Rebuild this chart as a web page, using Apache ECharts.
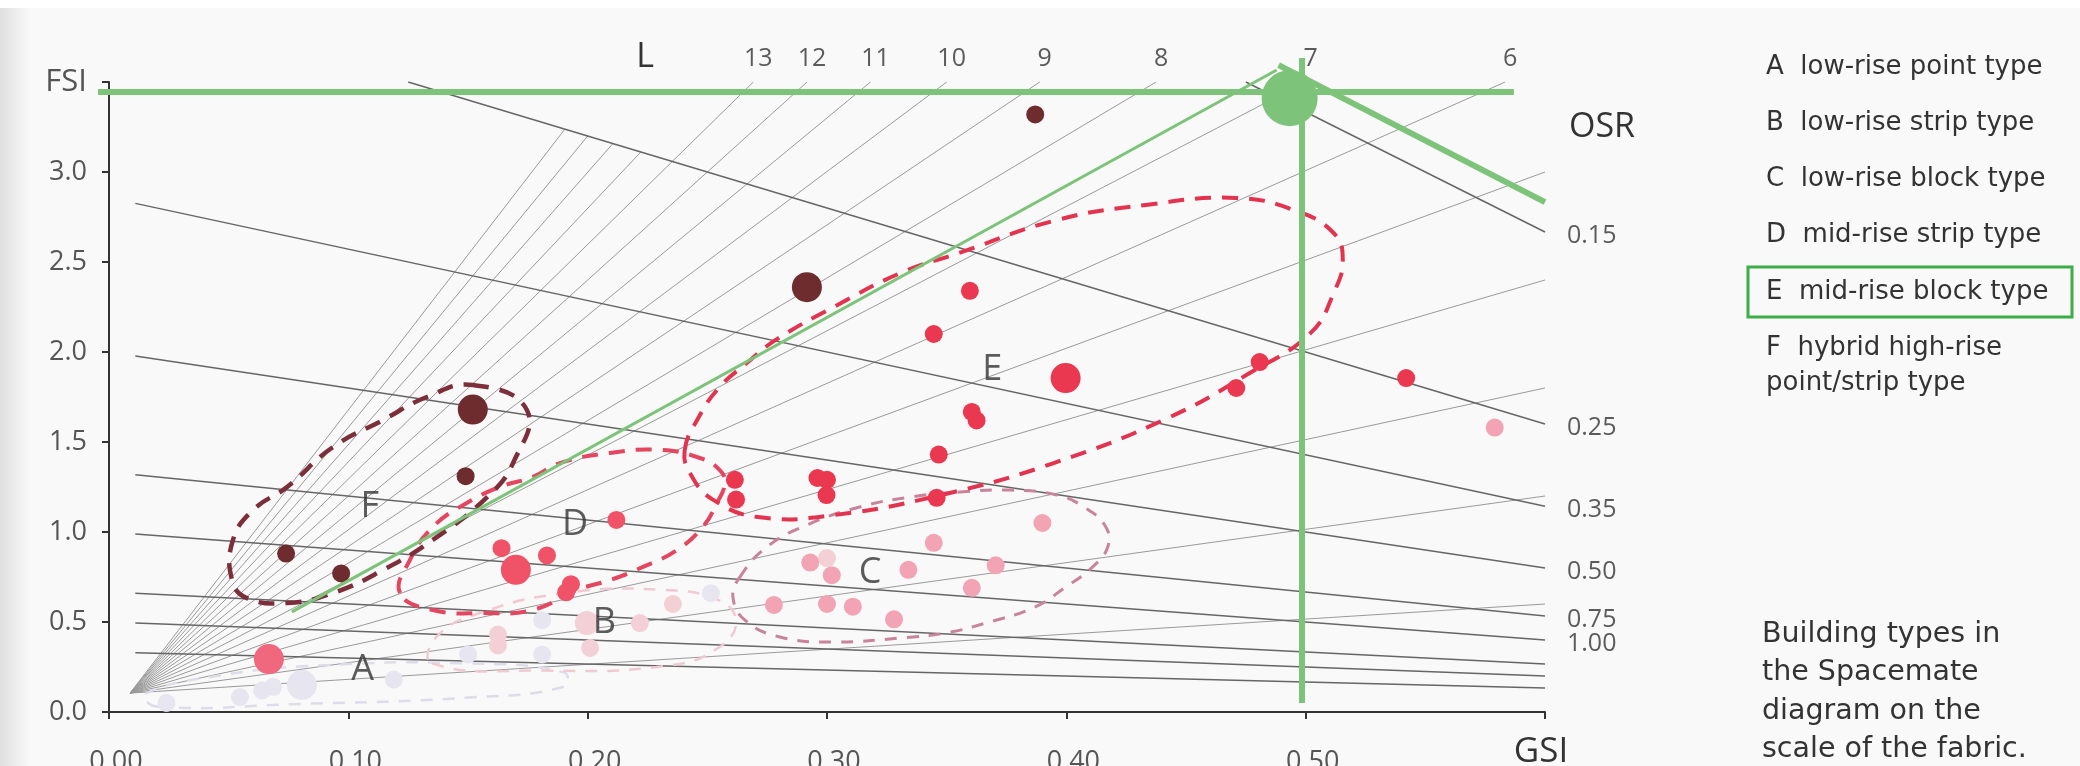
<!DOCTYPE html>
<html><head><meta charset="utf-8">
<script src="https://cdn.jsdelivr.net/npm/echarts@6/dist/echarts.min.js"></script>
<style>html,body{margin:0;padding:0;background:#f9f9f9}#c{width:2080px;height:766px}</style>
</head><body><div id="c"></div><script>
// ---------- data ----------
const xTicks = [0, 0.1, 0.2, 0.3, 0.4, 0.5, 0.6];
const yTicks = [0, 0.5, 1, 1.5, 2, 2.5, 3, 3.5];
const floorRays = [1,2,3,4,5,6,7,8,9,10,11,12,13,14,15,16,17];
const floorLabels = [6,7,8,9,10,11,12,13];
const osrValues = [0.15,0.25,0.35,0.5,0.75,1,1.5,2,3];
const osrLabels = ['0.15','0.25','0.35','0.50','0.75','1.00'];
const rayOrigin = [0.0088, 0.105];

// [GSI, FSI, sizeClass]
const typeF = [[0.152,1.68,2],[0.149,1.31,1],[0.074,0.88,1],[0.097,0.77,1],[0.2916,2.36,2],[0.387,3.32,1]];
const typeD = [[0.164,0.91,1],[0.170,0.79,2],[0.183,0.87,1],[0.212,1.067,1],[0.193,0.71,1],[0.191,0.665,1]];
const typeE = [[0.2615,1.29,1],[0.262,1.18,1],[0.296,1.30,1],[0.300,1.29,1],[0.2998,1.205,1],[0.3467,1.43,1],
  [0.3458,1.19,1],[0.3605,1.667,1],[0.3625,1.62,1],[0.3597,2.34,1],[0.3446,2.10,1],[0.3997,1.855,2],
  [0.4808,1.944,1],[0.471,1.80,1],[0.542,1.855,1]];
const typeC = [[0.390,1.05,1],[0.3446,0.94,1],[0.293,0.83,1],[0.302,0.76,1],[0.334,0.79,1],[0.3705,0.815,1],
  [0.3605,0.69,1],[0.2778,0.595,1],[0.300,0.60,1],[0.3108,0.585,1],[0.328,0.515,1],[0.579,1.58,1]];
const typeB = [[0.1997,0.494,3],[0.2218,0.494,1],[0.201,0.356,1],[0.1625,0.43,1],[0.1625,0.37,1],[0.2356,0.60,1],[0.300,0.855,1]];
const typeA = [[0.0806,0.15,2],[0.0686,0.14,1],[0.0547,0.083,1],[0.024,0.05,1],[0.119,0.18,1],[0.150,0.32,1],
  [0.181,0.51,1],[0.181,0.32,1],[0.2515,0.66,1],[0.064,0.12,1]];
const outlier = [[0.0668,0.294,2]];

const groupLetters = [['A',0.106,0.233],['B',0.207,0.494],['C',0.318,0.772],['D',0.1947,1.039],['E',0.369,1.90],['F',0.109,1.139]];

const outlineF = [[0.152,1.817],[0.1746,1.678],[0.1688,1.383],[0.158,1.194],[0.1353,0.956],[0.1145,0.789],[0.0936,0.661],
  [0.0744,0.606],[0.0576,0.633],[0.0514,0.733],[0.0518,0.956],[0.0602,1.122],[0.0744,1.25],[0.0936,1.472],[0.1145,1.622],
  [0.1328,1.75]];
const outlineD = [[0.1216,0.661],[0.1257,0.844],[0.1353,1.028],[0.1495,1.161],[0.1633,1.25],[0.1771,1.306],[0.1884,1.383],
  [0.2093,1.439],[0.2302,1.456],[0.2469,1.411],[0.2552,1.344],[0.2573,1.272],[0.254,1.161],[0.2481,1.028],[0.2373,0.9],
  [0.2231,0.806],[0.2093,0.733],[0.1955,0.678],[0.1771,0.567],[0.1562,0.55],[0.1353,0.567]];
const outlineE = [[0.2405,1.45],[0.2465,1.64],[0.2552,1.806],[0.2665,1.939],[0.2786,2.067],[0.3028,2.25],
  [0.3308,2.439],[0.3551,2.55],[0.396,2.733],[0.4332,2.817],[0.4708,2.856],[0.495,2.789],[0.5117,2.661],[0.5155,2.511],
  [0.5117,2.328],[0.5021,2.106],[0.4766,1.883],[0.4424,1.633],[0.3947,1.383],
  [0.3513,1.217],[0.3028,1.094],[0.2711,1.083],[0.2523,1.18],[0.2435,1.31]];
const outlineC = [[0.2636,0.75],[0.2749,0.917],[0.2916,1.039],[0.3137,1.139],[0.3346,1.194],[0.3555,1.222],[0.3764,1.233],
  [0.396,1.206],[0.4073,1.139],[0.4165,1.028],[0.4173,0.917],[0.411,0.806],[0.3997,0.694],[0.3868,0.583],[0.3663,0.494],
  [0.3496,0.439],[0.3308,0.411],[0.3028,0.389],[0.2803,0.417],[0.2657,0.511],[0.2607,0.639]];
const outlineB = [[0.135,0.27],[0.18,0.23],[0.235,0.26],[0.255,0.36],[0.262,0.50],[0.255,0.62],[0.23,0.68],[0.19,0.66],
  [0.155,0.55],[0.137,0.42]];
const outlineA = [[0.02,0.03],[0.08,0.045],[0.15,0.08],[0.19,0.14],[0.19,0.22],[0.15,0.27],[0.09,0.26],[0.045,0.2],[0.015,0.1]];

// green overlay annotations (data coords)
const greenHLine = [[-0.0046,3.444],[0.587,3.444]];
const greenVLine = [[0.4983,0.05],[0.4983,3.633]];
const greenThin = [[0.0764,0.556],[0.4879,3.567]];
const greenThick = [[0.4887,3.594],[0.6,2.833]];
const greenDot = [[0.4933,3.41]];

// ---------- build ----------
const FONT = 'Open Sans';
const TFONT = '"DejaVu Sans"';
const XMAX = 0.6, YMAX = 3.5;
function rayEnd(L){
  if (L <= 13) { const g = YMAX / L; return g <= XMAX ? [g, YMAX] : [XMAX, XMAX * L]; }
  const g = 1 / (1 + 0.25 * L); return [g, L * g];
}
const rayLines = floorRays.map(L => ({coords: [rayOrigin, rayEnd(L)]}));
const osrLines = osrValues.map(o => {
  const g0 = Math.max(0.011, 1 - YMAX * o);
  return {coords: [[g0, (1 - g0) / o], [XMAX, (1 - XMAX) / o]]};
});
const osrLabelPts = osrLabels.map((t, i) => ({value: [XMAX, (1 - XMAX) / osrValues[i]], name: t}));
const floorLabelPts = floorLabels.map(L => ({value: rayEnd(L), name: String(L)}));

function sz(v){ return v[2] === 2 ? 30 : (v[2] === 3 ? 24 : 18); }
function pts(name, data, color){
  return {type:'scatter', name, data, symbolSize: sz, itemStyle:{color, opacity:1}, z:5, silent:true};
}
function outline(pathPts, color, w, dash){
  return {type:'custom', data:[0], z:4, silent:true, clip:false,
    renderItem: (params, api) => ({type:'polygon',
      shape:{points: pathPts.map(p => api.coord(p)), smooth:0.45},
      style:{fill:'none', stroke:color, lineWidth:w, lineDash:dash}})};
}
function gline(coords, w){
  return {type:'lines', coordinateSystem:'cartesian2d', clip:false, z:10, silent:true,
    data:[{coords}], lineStyle:{color:'#7dc47a', width:w, opacity:1}};
}
function txt(x, y, s, size, extra){
  return Object.assign({type:'text', x, y, style:{text:s, font:size + 'px ' + TFONT, fill:'#333', textVerticalAlign:'middle'}}, extra || {});
}

const chart = echarts.init(document.getElementById('c'), null, {renderer:'canvas'});
chart.setOption({
  backgroundColor:'#f9f9f9',
  animation:false,
  grid:{left:109, right:535, top:82, bottom:54, containLabel:false, outerBoundsMode:'none'},
  xAxis:{type:'value', min:0, max:XMAX, interval:0.1,
    axisLine:{lineStyle:{color:'#333', width:2}},
    axisTick:{length:7, lineStyle:{color:'#333', width:2}},
    splitLine:{show:false},
    axisLabel:{margin:37, color:'#555', fontFamily:FONT, fontSize:27, padding:[0,0,0,14], hideOverlap:false,
      formatter: v => Math.abs(v - XMAX) < 1e-9 ? '' : v.toFixed(2)}
  },
  yAxis:{type:'value', min:0, max:YMAX, interval:0.5,
    axisLine:{lineStyle:{color:'#333', width:2}},
    axisTick:{length:7, lineStyle:{color:'#333', width:2}},
    splitLine:{show:false},
    axisLabel:{margin:22, color:'#555', fontFamily:FONT, fontSize:27, hideOverlap:false,
      formatter: v => Math.abs(v - YMAX) < 1e-9 ? '{n|FSI}' : v.toFixed(1),
      rich:{n:{fontSize:31, color:'#555', fontFamily:FONT}}}
  },
  series:[
    {type:'lines', coordinateSystem:'cartesian2d', data: rayLines, silent:true, z:1,
      lineStyle:{color:'#9a9a9a', width:1, opacity:1}},
    {type:'lines', coordinateSystem:'cartesian2d', data: osrLines, silent:true, z:2,
      lineStyle:{color:'#666', width:1.5, opacity:1}},
    {type:'scatter', data: osrLabelPts, symbolSize:0, silent:true,
      label:{show:true, position:'right', distance:22, offset:[0,4], formatter: p => p.name, color:'#333', fontFamily:FONT, fontSize:25}},
    {type:'scatter', data: floorLabelPts, symbolSize:0, silent:true,
      label:{show:true, position:'top', distance:11, offset:[5,0], formatter: p => p.name, color:'#333', fontFamily:FONT, fontSize:25}},
    outline(outlineA, '#dddce9', 2.5, [12,10]),
    outline(outlineB, '#f1c9d1', 2.5, [12,10]),
    outline(outlineC, '#c9849a', 3, [12,10]),
    outline(outlineD, '#e4455f', 4, [16,11]),
    outline(outlineE, '#e2344f', 4, [16,11]),
    outline(outlineF, '#7c2f3b', 4.5, [16,11]),
    pts('A', typeA, '#e7e5ef'),
    pts('B', typeB, '#f3cfd6'),
    pts('C', typeC, '#f2a3b4'),
    pts('D', typeD, '#f05268'),
    pts('E', typeE, '#ea3850'),
    pts('F', typeF, '#6e2c2e'),
    pts('X', outlier, '#f0687d'),
    {type:'scatter', data: groupLetters.map(l => ({name:l[0], value:[l[1], l[2]]})), symbolSize:0, silent:true, z:6,
      label:{show:true, position:'inside', formatter: p => p.name, color:'#333', fontFamily:FONT, fontSize:36}},
    gline(greenHLine, 6),
    gline(greenVLine, 6),
    gline(greenThin, 3),
    gline(greenThick, 6),
    {type:'scatter', data: greenDot, symbolSize:56, itemStyle:{color:'#7dc47a', opacity:1}, z:11, silent:true}
  ],
  graphic:[
    {type:'rect', left:0, top:0, z:-1, shape:{width:30, height:766},
      style:{fill:new echarts.graphic.LinearGradient(0,0,1,0,[{offset:0,color:'rgba(0,0,0,0.10)'},{offset:1,color:'rgba(0,0,0,0)'}])}},
    {type:'rect', left:0, top:0, z:-1, shape:{width:2080, height:8}, style:{fill:'#ffffff'}},
    {type:'text', x:1569, y:127, style:{text:'OSR', font:'34px "Open Sans"', fill:'#333', textVerticalAlign:'middle'}},
    {type:'text', x:645, y:57, style:{text:'L', font:'34px "Open Sans"', fill:'#333', textAlign:'center', textVerticalAlign:'middle'}},
    {type:'text', x:1541, y:752, style:{text:'GSI', font:'35px "Open Sans"', fill:'#333', textAlign:'center', textVerticalAlign:'middle'}},
    txt(1766, 67, 'A  low-rise point type', 26),
    txt(1766, 123, 'B  low-rise strip type', 26),
    txt(1766, 179, 'C  low-rise block type', 26),
    txt(1766, 235, 'D  mid-rise strip type', 26),
    txt(1766, 292, 'E  mid-rise block type', 26),
    txt(1766, 348, 'F  hybrid high-rise', 26),
    txt(1766, 383, 'point/strip type', 26),
    {type:'rect', shape:{x:1748, y:267, width:324, height:50}, style:{fill:'none', stroke:'#3dae47', lineWidth:3}},
    txt(1762, 635, 'Building types in', 28.5),
    txt(1762, 673, 'the Spacemate', 28.5),
    txt(1762, 712, 'diagram on the', 28.5),
    txt(1762, 750, 'scale of the fabric.', 28.5)
  ]
});
</script></body></html>
